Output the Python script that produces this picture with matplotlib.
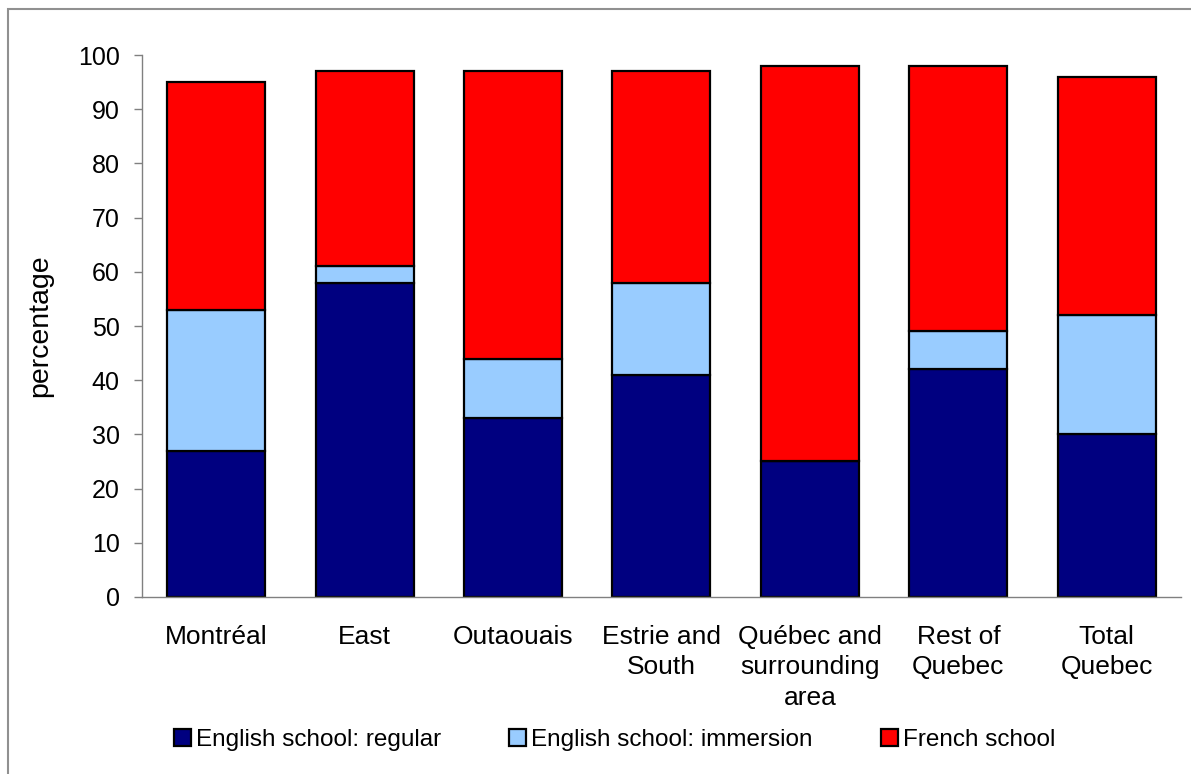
import numpy as np
import matplotlib
matplotlib.use('Agg')
import matplotlib.pyplot as plt
from matplotlib.patches import Rectangle

plt.rcParams['font.family'] = ['Liberation Sans', 'DejaVu Sans']

regions = ['Montréal', 'East', 'Outaouais', 'Estrie and\nSouth',
           'Québec and\nsurrounding\narea', 'Rest of\nQuebec', 'Total\nQuebec']
english_regular = [27, 58, 33, 41, 25, 42, 30]
english_immersion = [26, 3, 11, 17, 0, 7, 22]
french_school = [42, 36, 53, 39, 73, 49, 44]
series_names = ['English school: regular', 'English school: immersion', 'French school']
colors = ['#000080', '#99CCFF', '#FF0000']

fig = plt.figure(figsize=(11.91, 7.74), dpi=100)
ax = fig.add_axes([0.1192, 0.2287, 0.8724, 0.7002])

x = np.arange(len(regions))
bottom = np.zeros(len(regions))
handles = []
for vals, name, col in zip([english_regular, english_immersion, french_school],
                           series_names, colors):
    vals = np.array(vals, dtype=float)
    b = ax.bar(x, vals, 0.66, bottom=bottom, color=col, edgecolor='black',
               linewidth=1.6, label=name)
    handles.append(b)
    bottom += vals

ax.set_xlim(-0.5, len(regions) - 0.5)
ax.set_ylim(0, 100)
ax.set_yticks(np.arange(0, 101, 10))
ax.set_xticks(x)
ax.set_xticklabels(regions, fontsize=19, linespacing=1.35)
ax.tick_params(axis='y', labelsize=18, length=6, width=1, color='#808080',
               direction='out', pad=10)
ax.tick_params(axis='x', length=0, pad=20)
ax.set_ylabel('percentage', fontsize=20.5, labelpad=18)

for s in ['top', 'right']:
    ax.spines[s].set_visible(False)
for s in ['left', 'bottom']:
    ax.spines[s].set_color('#808080')
    ax.spines[s].set_linewidth(1)

fig.legend(handles=handles, labels=series_names, loc='center',
           bbox_to_anchor=(0.516, 0.044), ncol=3, frameon=False, fontsize=17.5,
           handlelength=0.7, handleheight=0.7, handletextpad=0.2,
           columnspacing=2.8)

fig.add_artist(Rectangle((8 / 1191, -0.1), 1.2, 1.1 - 9 / 774,
                         transform=fig.transFigure, fill=False,
                         edgecolor='#909090', linewidth=1.5))

fig.savefig('out.png', dpi=100)
